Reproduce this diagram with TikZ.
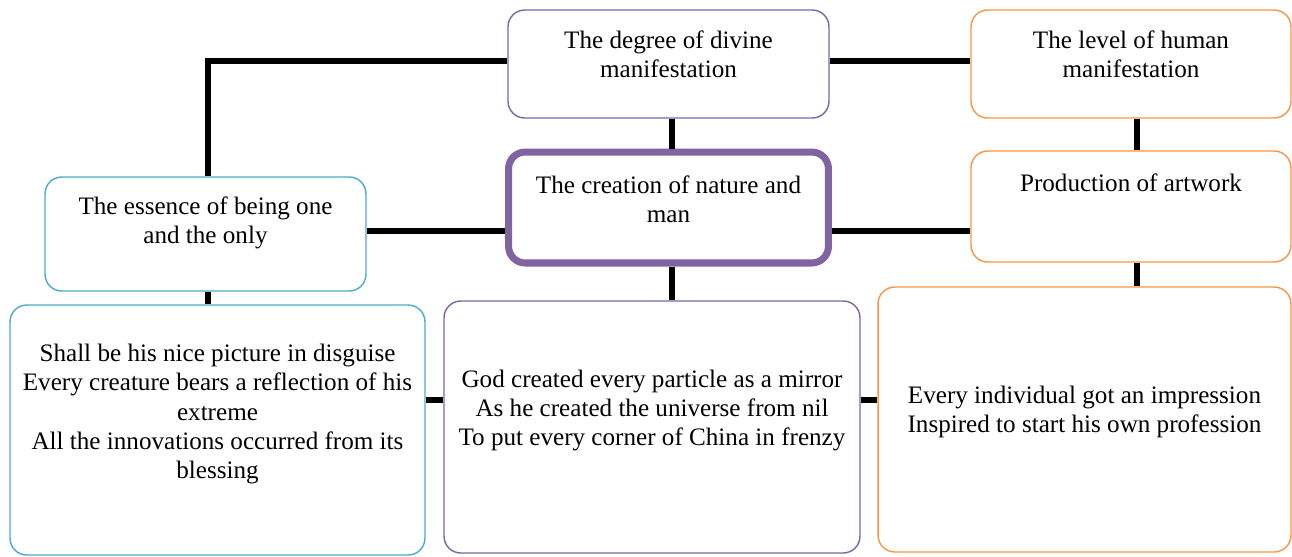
\documentclass[tikz,border=0pt]{standalone}
\usepackage{fontspec}
\setmainfont{LiberationSerif}[Extension=.ttf, UprightFont=*-Regular, BoldFont=*-Bold]
\usetikzlibrary{positioning, calc}
\definecolor{boxblue}{HTML}{4BACC6}
\definecolor{boxpurple}{HTML}{8064A2}
\definecolor{boxorange}{HTML}{F79646}
\tikzset{
  box/.style={
    rectangle, rounded corners=9.5pt, inner sep=0pt,
    draw=#1, line width=0.8pt, fill=white,
  },
  mainbox/.style={
    rectangle, rounded corners=9.5pt, inner sep=0pt,
    draw=boxpurple, line width=4pt, fill=white,
  },
  txt/.style={align=center, inner sep=0pt, font=\fontsize{14.3}{16.6}\selectfont},
  link/.style={line width=3.8pt, color=black},
}

\begin{document}
\begin{tikzpicture}[x=0.02cm, y=-0.02cm]

  \useasboundingbox (0,0) rectangle (1292,556);

  % boxes
  \node[box=boxpurple, minimum width=6.42cm, minimum height=2.16cm] (divine) at (668.5,64) {};
  \node[box=boxorange, minimum width=6.4cm, minimum height=2.16cm] (human) at (1131,64) {};
  \node[mainbox, minimum width=6.4cm, minimum height=2.22cm] (creation) at (668.5,207.5) {};
  \node[box=boxorange, minimum width=6.4cm, minimum height=2.22cm] (artwork) at (1131,206.5) {};
  \node[box=boxblue, minimum width=6.42cm, minimum height=2.28cm] (essence) at (205.5,234) {};
  \node[box=boxblue, minimum width=8.3cm, minimum height=5.0cm] (leftbot) at (217.5,430) {};
  \node[box=boxpurple, minimum width=8.32cm, minimum height=5.04cm] (midbot) at (652,427) {};
  \node[box=boxorange, minimum width=8.26cm, minimum height=5.3cm] (rightbot) at (1084.5,419.5) {};

  % texts
  \node[txt] (divineT) at (668.5,54) {The degree of divine\\manifestation};
  \node[txt] (humanT) at (1131,54) {The level of human\\manifestation};
  \node[txt] (creationT) at (668.5,199) {The creation of nature and\\man};
  \node[txt] (artworkT) at (1131,183) {Production of artwork};
  \node[txt] (essenceT) at (205.5,222.5) {The essence of being one\\and the only};
  \node[txt] (leftbotT) at (217.5,414) {Shall be his nice picture in disguise\\Every creature bears a reflection of his\\extreme\\All the innovations occurred from its\\blessing};
  \node[txt] (midbotT) at (652,410.5) {God created every particle as a mirror\\As he created the universe from nil\\To put every corner of China in frenzy};
  \node[txt] (rightbotT) at (1084.5,412) {Every individual got an impression\\Inspired to start his own profession};

  % connectors
  \draw[link] ([xshift=0.05cm]essence.north) |- ([yshift=0.06cm]divine.west);
  \draw[link] ([yshift=0.06cm]divine.east) -- ([yshift=0.06cm]human.west);
  \draw[link] ([xshift=0.07cm]divine.south) -- ([xshift=0.07cm]divine.south |- creation.north);
  \draw[link] ([xshift=0.12cm]human.south) -- ([xshift=0.12cm]human.south |- artwork.north);
  \draw[link] ([yshift=0.06cm]essence.east) -- ([yshift=0.06cm]essence.east -| creation.west);
  \draw[link] ([yshift=0.06cm]essence.east -| creation.east) -- ([yshift=0.06cm]essence.east -| artwork.west);
  \draw[link] ([xshift=0.05cm]essence.south) -- ([xshift=0.05cm]essence.south |- leftbot.north);
  \draw[link] ([xshift=0.07cm]creation.south) -- ([xshift=0.07cm]creation.south |- midbot.north);
  \draw[link] ([xshift=0.12cm]artwork.south) -- ([xshift=0.12cm]artwork.south |- rightbot.north);
  \draw[link] ([yshift=0.6cm]leftbot.east) coordinate (lb) -- (lb -| midbot.west);
  \draw[link] (lb -| midbot.east) -- (lb -| rightbot.west);

\end{tikzpicture}
\end{document}
